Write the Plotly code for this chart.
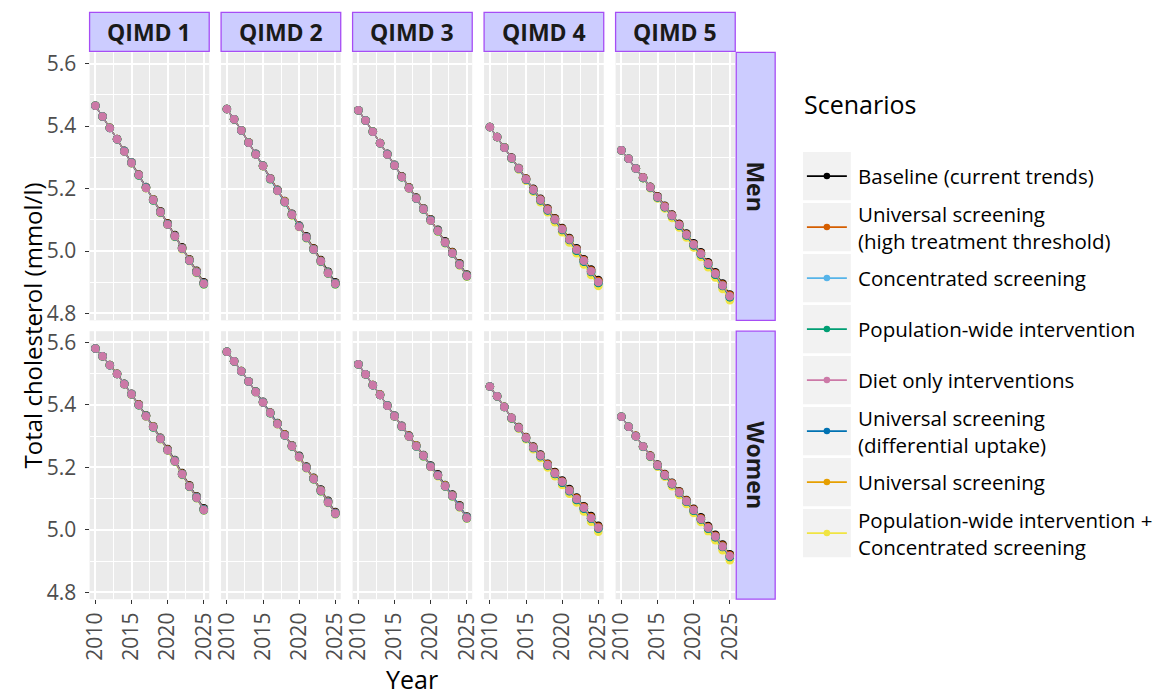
import plotly.graph_objects as go

# ---------------------------------------------------------------- data
YEARS = list(range(2010, 2026))
QIMD_LABELS = ["QIMD 1", "QIMD 2", "QIMD 3", "QIMD 4", "QIMD 5"]
SEX_LABELS = ["Men", "Women"]
X_TICKS = [2010, 2015, 2020, 2025]
Y_TICKS = [4.8, 5.0, 5.2, 5.4, 5.6]

SCENARIOS = [
    "Baseline (current trends)",
    "Universal screening<br>(high treatment threshold)",
    "Concentrated screening",
    "Population-wide intervention",
    "Diet only interventions",
    "Universal screening<br>(differential uptake)",
    "Universal screening",
    "Population-wide intervention +<br>Concentrated screening",
]
SCENARIO_COLOURS = ["#000000", "#D55E00", "#56B4E9", "#009E73",
                    "#CC79A7", "#0072B2", "#E69F00", "#F0E442"]

# Baseline mean total cholesterol (mmol/l), 2010-2025
men_q1 = [5.465, 5.431, 5.395, 5.359, 5.321, 5.284, 5.245, 5.205, 5.166, 5.127, 5.089, 5.051, 5.012, 4.974, 4.937, 4.900]
men_q2 = [5.455, 5.422, 5.387, 5.348, 5.311, 5.274, 5.233, 5.196, 5.160, 5.119, 5.082, 5.047, 5.009, 4.971, 4.934, 4.900]
men_q3 = [5.451, 5.418, 5.383, 5.346, 5.311, 5.276, 5.239, 5.204, 5.171, 5.137, 5.102, 5.068, 5.031, 4.997, 4.961, 4.925]
men_q4 = [5.397, 5.365, 5.332, 5.299, 5.266, 5.232, 5.199, 5.167, 5.136, 5.105, 5.074, 5.042, 5.009, 4.974, 4.941, 4.907]
men_q5 = [5.323, 5.295, 5.265, 5.236, 5.206, 5.175, 5.145, 5.117, 5.087, 5.056, 5.025, 4.996, 4.964, 4.932, 4.896, 4.861]
women_q1 = [5.581, 5.556, 5.528, 5.500, 5.468, 5.436, 5.402, 5.367, 5.332, 5.295, 5.259, 5.224, 5.182, 5.143, 5.108, 5.069]
women_q2 = [5.570, 5.540, 5.509, 5.476, 5.443, 5.410, 5.376, 5.342, 5.306, 5.271, 5.237, 5.203, 5.167, 5.129, 5.093, 5.057]
women_q3 = [5.530, 5.498, 5.464, 5.433, 5.399, 5.366, 5.333, 5.302, 5.271, 5.240, 5.206, 5.178, 5.144, 5.113, 5.079, 5.043]
women_q4 = [5.459, 5.428, 5.394, 5.359, 5.329, 5.297, 5.267, 5.241, 5.212, 5.185, 5.158, 5.131, 5.104, 5.076, 5.044, 5.013]
women_q5 = [5.362, 5.330, 5.301, 5.268, 5.238, 5.209, 5.179, 5.151, 5.124, 5.096, 5.068, 5.040, 5.012, 4.984, 4.953, 4.922]

# Scenario minus baseline (mmol/l), least deprived groups (QIMD 1-3)
baseline_q123 = [0] * 16
high_thr_q123 = [0, 0, 0, 0, -0.001, -0.001, -0.001, -0.001, -0.001, -0.001, -0.002, -0.002, -0.002, -0.002, -0.002, -0.002]
concentrated_q123 = [0, 0, 0, -0.001, -0.001, -0.001, -0.002, -0.002, -0.002, -0.002, -0.003, -0.003, -0.003, -0.003, -0.003, -0.003]
popwide_q123 = [0, 0, -0.001, -0.001, -0.002, -0.002, -0.003, -0.003, -0.004, -0.004, -0.004, -0.005, -0.005, -0.005, -0.006, -0.006]
diet_q123 = [0, 0, -0.001, -0.001, -0.002, -0.002, -0.002, -0.003, -0.003, -0.003, -0.004, -0.004, -0.004, -0.004, -0.005, -0.005]
diff_uptake_q123 = [0, 0, -0.001, -0.001, -0.001, -0.002, -0.002, -0.002, -0.003, -0.003, -0.003, -0.003, -0.004, -0.004, -0.004, -0.004]
universal_q123 = [0, 0, 0, -0.001, -0.001, -0.002, -0.002, -0.002, -0.002, -0.003, -0.003, -0.003, -0.003, -0.003, -0.004, -0.004]
combined_q123 = [0, 0, -0.001, -0.001, -0.002, -0.003, -0.003, -0.004, -0.004, -0.005, -0.005, -0.006, -0.006, -0.006, -0.007, -0.007]

# Scenario minus baseline (mmol/l), most deprived groups (QIMD 4-5)
baseline_q45 = [0] * 16
high_thr_q45 = [0, 0, 0, -0.001, -0.001, -0.001, -0.002, -0.002, -0.002, -0.002, -0.003, -0.003, -0.003, -0.003, -0.003, -0.003]
concentrated_q45 = [0, 0, -0.001, -0.002, -0.004, -0.005, -0.006, -0.007, -0.008, -0.009, -0.010, -0.011, -0.011, -0.012, -0.012, -0.013]
popwide_q45 = [0, 0, -0.001, -0.002, -0.002, -0.003, -0.004, -0.004, -0.005, -0.005, -0.006, -0.006, -0.007, -0.007, -0.007, -0.008]
diet_q45 = [0, 0, -0.001, -0.001, -0.002, -0.002, -0.003, -0.003, -0.004, -0.004, -0.004, -0.005, -0.005, -0.005, -0.006, -0.006]
diff_uptake_q45 = [0, 0, -0.001, -0.002, -0.003, -0.004, -0.005, -0.005, -0.006, -0.006, -0.007, -0.007, -0.008, -0.008, -0.008, -0.009]
universal_q45 = [0, 0, -0.001, -0.002, -0.002, -0.003, -0.004, -0.004, -0.005, -0.005, -0.006, -0.006, -0.006, -0.007, -0.007, -0.007]
combined_q45 = [0, 0, -0.001, -0.003, -0.005, -0.007, -0.009, -0.011, -0.012, -0.013, -0.014, -0.015, -0.016, -0.017, -0.018, -0.019]

# ---------------------------------------------------------------- figure
W, H = 1168, 698
FONT = "Open Sans"


def px(x):
    return x / W


def py(y):
    return 1 - y / H


baselines = [[men_q1, men_q2, men_q3, men_q4, men_q5],
             [women_q1, women_q2, women_q3, women_q4, women_q5]]
offsets_q123 = [baseline_q123, high_thr_q123, concentrated_q123, popwide_q123,
                diet_q123, diff_uptake_q123, universal_q123, combined_q123]
offsets_q45 = [baseline_q45, high_thr_q45, concentrated_q45, popwide_q45,
               diet_q45, diff_uptake_q45, universal_q45, combined_q45]

# drawing order: later traces sit on top
DRAW_ORDER = [0, 1, 2, 7, 6, 5, 3, 4]

PANEL_LEFT, PANEL_PITCH, PANEL_W = 81.7, 133.33, 121.3
ROW_TOP = [50.0, 332.5]
PANEL_H = 271.5
X_RANGE = [2009.2, 2025.75]
Y_RANGE = [4.778, 5.636]
TICK_FONT = dict(family=FONT, size=21, color="#4D4D4D")

fig = go.Figure()
layout = {}

for r in range(2):
    for c in range(5):
        i = r * 5 + c + 1
        xname = "x" if i == 1 else f"x{i}"
        yname = "y" if i == 1 else f"y{i}"
        base = baselines[r][c]
        offs = offsets_q123 if c < 3 else offsets_q45
        for s in DRAW_ORDER:
            vals = [b + o for b, o in zip(base, offs[s])]
            fig.add_trace(go.Scatter(
                x=YEARS, y=vals, mode="lines+markers",
                line=dict(color=SCENARIO_COLOURS[s], width=1.1),
                marker=dict(color=SCENARIO_COLOURS[s], size=8.5),
                showlegend=False, xaxis=xname, yaxis=yname,
                hovertemplate="%{x}: %{y:.3f}<extra></extra>"))

        x0 = PANEL_LEFT + c * PANEL_PITCH
        y0 = ROW_TOP[r]
        layout["xaxis" if i == 1 else f"xaxis{i}"] = dict(
            domain=[px(x0), px(x0 + PANEL_W)], range=X_RANGE,
            anchor=yname, tickmode="array", tickvals=X_TICKS,
            ticktext=[str(t) for t in X_TICKS],
            showticklabels=(r == 1), ticks="outside" if r == 1 else "",
            ticklen=4, tickwidth=1.2, tickcolor="#333333", tickangle=-90,
            tickfont=TICK_FONT,
            showgrid=True, gridcolor="white", gridwidth=2,
            minor=dict(tickmode="array", tickvals=[2012.5, 2017.5, 2022.5],
                       showgrid=True, gridcolor="white", gridwidth=1),
            zeroline=False, showline=False, fixedrange=True)
        layout["yaxis" if i == 1 else f"yaxis{i}"] = dict(
            domain=[py(y0 + PANEL_H), py(y0)], range=Y_RANGE,
            anchor=xname, tickmode="array", tickvals=Y_TICKS,
            ticktext=[f"{t:.1f}" for t in Y_TICKS],
            showticklabels=(c == 0), ticks="outside" if c == 0 else "",
            ticklen=4, tickwidth=1.2, tickcolor="#333333",
            tickfont=TICK_FONT, ticklabelstandoff=4,
            showgrid=True, gridcolor="white", gridwidth=2,
            minor=dict(tickmode="array", tickvals=[4.9, 5.1, 5.3, 5.5],
                       showgrid=True, gridcolor="white", gridwidth=1),
            zeroline=False, showline=False, fixedrange=True)

shapes = []
annotations = []
STRIP_FILL, STRIP_LINE = "#CCCCFF", "#A64DF5"


def label(text, x, y, size, colour="#000000", angle=0, xanchor="center"):
    annotations.append(dict(text=text, xref="paper", yref="paper",
                            x=px(x), y=py(y), xanchor=xanchor, yanchor="middle",
                            align="left", showarrow=False, textangle=angle,
                            font=dict(family=FONT, size=size, color=colour)))


# column strips
for c, name in enumerate(QIMD_LABELS):
    x0 = PANEL_LEFT + c * PANEL_PITCH
    shapes.append(dict(type="rect", xref="paper", yref="paper",
                       x0=px(x0), x1=px(x0 + PANEL_W), y0=py(49), y1=py(9.5),
                       fillcolor=STRIP_FILL, line=dict(color=STRIP_LINE, width=1.3)))
    label(f"<b>{name}</b>", x0 + PANEL_W / 2, 29.5, 23, "#1A1A1A")

# row strips
STRIP_X0 = PANEL_LEFT + 4 * PANEL_PITCH + PANEL_W + 1
for r, name in enumerate(SEX_LABELS):
    y0 = ROW_TOP[r]
    shapes.append(dict(type="rect", xref="paper", yref="paper",
                       x0=px(STRIP_X0), x1=px(STRIP_X0 + 39.5),
                       y0=py(y0 + PANEL_H), y1=py(y0),
                       fillcolor=STRIP_FILL, line=dict(color=STRIP_LINE, width=1.3)))
    label(f"<b>{name}</b>", STRIP_X0 + 20, y0 + PANEL_H / 2, 23, "#1A1A1A", angle=90)

# axis titles
label("Year", 409, 685, 25)
label("Total cholesterol (mmol/l)", 24, 327, 24, angle=-90)

# legend
label("Scenarios", 804, 102, 25, xanchor="left")
KEY_X0, KEY_W, KEY_H, KEY_TOP, KEY_PITCH = 805, 48.5, 48.7, 151, 51.67
for k, (name, colour) in enumerate(zip(SCENARIOS, SCENARIO_COLOURS)):
    top = KEY_TOP + k * KEY_PITCH
    cy = top + KEY_H / 2
    shapes.append(dict(type="rect", xref="paper", yref="paper",
                       x0=px(KEY_X0), x1=px(KEY_X0 + KEY_W), y0=py(top + KEY_H), y1=py(top),
                       fillcolor="#F2F2F2", line=dict(width=0)))
    shapes.append(dict(type="line", xref="paper", yref="paper",
                       x0=px(KEY_X0 + 4), x1=px(KEY_X0 + KEY_W - 4), y0=py(cy), y1=py(cy),
                       line=dict(color=colour, width=1.6)))
    shapes.append(dict(type="circle", xref="paper", yref="paper",
                       x0=px(KEY_X0 + KEY_W / 2 - 3.3), x1=px(KEY_X0 + KEY_W / 2 + 3.3),
                       y0=py(cy + 3.3), y1=py(cy - 3.3),
                       fillcolor=colour, line=dict(color=colour, width=0)))
    label(name, KEY_X0 + KEY_W + 5, cy, 20.5, xanchor="left")

fig.update_layout(
    width=W, height=H, margin=dict(l=0, r=0, t=0, b=0),
    paper_bgcolor="white", plot_bgcolor="#EBEBEB",
    shapes=shapes, annotations=annotations, showlegend=False,
    **layout)

fig.write_html("out.html", config={"displayModeBar": False})
